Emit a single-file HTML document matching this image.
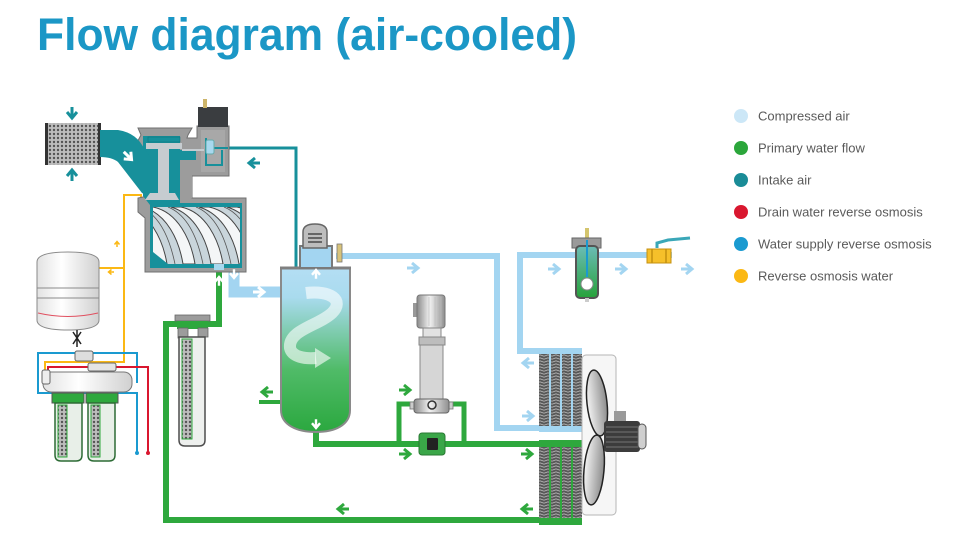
<!DOCTYPE html>
<html><head><meta charset="utf-8"><style>
html,body{margin:0;padding:0;background:#fff;}
svg{display:block;}
</style></head><body>
<svg width="960" height="546" viewBox="0 0 960 546" xmlns="http://www.w3.org/2000/svg">
<defs>
 <pattern id="mesh" width="4" height="4" patternUnits="userSpaceOnUse">
  <rect width="4" height="4" fill="#bdbdbd"/>
  <circle cx="2" cy="2" r="1.2" fill="#555"/>
 </pattern>
 <pattern id="coil" width="8" height="3" patternUnits="userSpaceOnUse">
  <rect width="8" height="3" fill="#585858"/>
  <path d="M0,2.2 L4,0.8 L8,2.2" stroke="#b4b4b4" stroke-width="0.9" fill="none"/>
 </pattern>
 <linearGradient id="sep" x1="0" y1="0" x2="0" y2="1">
  <stop offset="0" stop-color="#b4def4"/>
  <stop offset="0.18" stop-color="#a9dbee"/>
  <stop offset="0.62" stop-color="#50bb68"/>
  <stop offset="1" stop-color="#2ba83f"/>
 </linearGradient>
 <linearGradient id="metal" x1="0" y1="0" x2="1" y2="0">
  <stop offset="0" stop-color="#8a8a8a"/>
  <stop offset="0.45" stop-color="#f2f2f2"/>
  <stop offset="1" stop-color="#8f8f8f"/>
 </linearGradient>
 <linearGradient id="tank" x1="0" y1="0" x2="1" y2="0">
  <stop offset="0" stop-color="#e2e2e2"/>
  <stop offset="0.4" stop-color="#ffffff"/>
  <stop offset="1" stop-color="#d0d0d0"/>
 </linearGradient>
 <linearGradient id="blade" x1="0" y1="0" x2="1" y2="0">
  <stop offset="0" stop-color="#f4f4f4"/>
  <stop offset="1" stop-color="#8c8c8c"/>
 </linearGradient>
 <linearGradient id="filt" x1="0" y1="0" x2="0" y2="1">
  <stop offset="0" stop-color="#6cbcb6"/>
  <stop offset="1" stop-color="#27a23a"/>
 </linearGradient>
 <clipPath id="sc"><rect x="153" y="207" width="87" height="57"/></clipPath>
 <path id="ar" d="M-6,0 H4 M-1,-5 L5,0 L-1,5" fill="none" stroke-width="3"/>
</defs>

<!-- Title -->
<text x="37" y="50" font-family="Liberation Sans, sans-serif" font-weight="bold" font-size="45" fill="#1b97c6" textLength="540" lengthAdjust="spacingAndGlyphs">Flow diagram (air-cooled)</text>

<!-- Legend -->
<g font-family="Liberation Sans, sans-serif" font-size="13" fill="#5a5a5a">
 <circle cx="741" cy="116" r="7" fill="#cce7f7"/><text x="758" y="120.5">Compressed air</text>
 <circle cx="741" cy="148" r="7" fill="#2ba63b"/><text x="758" y="152.5">Primary water flow</text>
 <circle cx="741" cy="180" r="7" fill="#1a8c97"/><text x="758" y="184.5">Intake air</text>
 <circle cx="741" cy="212" r="7" fill="#d9172f"/><text x="758" y="216.5">Drain water reverse osmosis</text>
 <circle cx="741" cy="244" r="7" fill="#1a9ad0"/><text x="758" y="248.5">Water supply reverse osmosis</text>
 <circle cx="741" cy="276" r="7" fill="#fbb814"/><text x="758" y="280.5">Reverse osmosis water</text>
</g>

<!-- ===== Pipes ===== -->
<path d="M213,148 H296 V268" fill="none" stroke="#17909b" stroke-width="3"/>
<path d="M141,205 V195 H124 V362 H45 V372 M99,268 H124" fill="none" stroke="#fbb814" stroke-width="2"/>
<path d="M137,383 V353 H38 V393 H137 V453" fill="none" stroke="#1a9ad0" stroke-width="2"/>
<circle cx="137" cy="453" r="2" fill="#1a9ad0"/>
<path d="M48,372 V367 H148 V453" fill="none" stroke="#d9172f" stroke-width="2"/>
<circle cx="148" cy="453" r="2" fill="#d9172f"/>
<path d="M219,268 V324 H166 V520 H540" fill="none" stroke="#2ea83d" stroke-width="6"/>
<path d="M282,402 H259" fill="none" stroke="#2ea83d" stroke-width="4"/>
<path d="M316,430 V444 H540" fill="none" stroke="#2ea83d" stroke-width="6"/>
<path d="M399,444 V404 H464 V444" fill="none" stroke="#2ea83d" stroke-width="5"/>
<path d="M234,266 V292 H282" fill="none" stroke="#a3d5f1" stroke-width="11"/>
<path d="M336,256 H497 V428 H540" fill="none" stroke="#a3d5f1" stroke-width="6"/>
<path d="M540,351 H520 V255 H672" fill="none" stroke="#a3d5f1" stroke-width="6"/>

<!-- ===== Intake filter ===== -->
<rect x="45" y="123" width="56" height="42" fill="url(#mesh)"/>
<rect x="45" y="123" width="3" height="42" fill="#333"/>
<rect x="98" y="123" width="3" height="42" fill="#333"/>

<!-- ===== Compressor ===== -->
<path d="M138,128 L192,128 L188,135 L187,138 L197,138 L197,126 L229,126 L229,176 L192,176 L192,198 L246,198 L246,272 L145,272 L145,218 L138,212 L138,198 L148,196 L134,148 L141,135 Z" fill="#9c9c9c" stroke="#707070" stroke-width="1"/>
<rect x="198" y="107" width="30" height="20" fill="#3a3d40"/>
<rect x="203" y="99" width="4" height="9" fill="#cdb56a"/>
<rect x="201" y="130" width="24" height="42" fill="#a8a8a8"/>
<path d="M228,148 H214 M206,138 V165 H222 V150" fill="none" stroke="#17909b" stroke-width="2"/>
<rect x="206" y="140" width="8" height="14" rx="2" fill="#a8d8ee" stroke="#6aa" stroke-width="1"/>
<path d="M143,136 L180,136 L180,205 L150,205 L143,196 Z" fill="#17909b"/>
<path d="M180,150 H196 V160 H180" fill="#17909b"/>
<path d="M100,130 L118,130 Q132,132 140,142 L152,160 L152,198 L142,193 L118,162 Q112,157 100,157 Z" fill="#17909b"/>
<rect x="148" y="137" width="32" height="5" fill="#17909b" stroke="#0f6f78" stroke-width="0.5"/>
<rect x="146" y="143" width="36" height="6" fill="#c6ccd0"/>
<rect x="158" y="149" width="11" height="44" fill="#c6ccd0"/>
<path d="M145,200 L150,193 L175,193 L179,200 Z" fill="#c6ccd0"/>
<path d="M182,150 H204" stroke="#c6ccd0" stroke-width="2"/>
<rect x="180" y="160" width="12" height="38" fill="#9c9c9c"/>
<rect x="150" y="203" width="92" height="65" fill="#17909b"/>
<g clip-path="url(#sc)">
 <rect x="153" y="207" width="87" height="57" fill="#c9d5db"/>
 <path d="M125,207 C150,212 163,240 167,264 L155,264 C151,240 139,214 115,207 Z" fill="#f4f6f7" stroke="#444" stroke-width="1"/>
 <path d="M153,207 C178,212 191,240 195,264 L183,264 C179,240 167,214 143,207 Z" fill="#f4f6f7" stroke="#444" stroke-width="1"/>
 <path d="M181,207 C206,212 219,240 223,264 L211,264 C207,240 195,214 171,207 Z" fill="#f4f6f7" stroke="#444" stroke-width="1"/>
 <path d="M209,207 C234,212 247,240 251,264 L239,264 C235,240 223,214 199,207 Z" fill="#f4f6f7" stroke="#444" stroke-width="1"/>
 <path d="M237,207 C262,212 275,240 279,264 L267,264 C263,240 251,214 227,207 Z" fill="#f4f6f7" stroke="#444" stroke-width="1"/>
 <path d="M140,207 C160,215 170,240 175,264 M168,207 C188,215 198,240 203,264 M196,207 C216,215 226,240 231,264 M224,207 C244,215 254,240 259,264" fill="none" stroke="#555" stroke-width="0.8"/>
</g>
<polygon points="153,264 168,264 153,252" fill="#17909b"/>
<rect x="214" y="264" width="10" height="6" fill="#a8d8ee"/>

<!-- ===== Oil filter ===== -->
<rect x="175" y="315" width="35" height="6" fill="#9c9c9c" stroke="#666" stroke-width="0.8"/>
<rect x="177" y="321" width="31" height="8" fill="#2ea83d"/>
<rect x="178" y="328" width="10" height="10" fill="#9c9c9c" stroke="#666" stroke-width="0.8"/>
<rect x="198" y="328" width="10" height="9" fill="#9c9c9c" stroke="#666" stroke-width="0.8"/>
<path d="M179,337 H205 V440 Q205,446 199,446 H185 Q179,446 179,440 Z" fill="#eef0ee" stroke="#4d4d4d" stroke-width="1.5"/>
<rect x="182" y="339" width="10" height="100" fill="url(#mesh)" stroke="#2ea83d" stroke-width="1"/>

<!-- ===== RO system ===== -->
<path d="M37,262 Q37,252 68,252 Q99,252 99,262 V320 Q99,330 68,330 Q37,330 37,320 Z" fill="url(#tank)" stroke="#8a8a8a" stroke-width="1"/>
<rect x="37" y="288" width="62" height="10" fill="url(#tank)" stroke="#8a8a8a" stroke-width="1"/>
<path d="M38,313 Q68,320 98,313" fill="none" stroke="#e05060" stroke-width="1"/>
<path d="M73,332 L81,344 M81,332 L73,344 M77,330 V347" stroke="#222" stroke-width="1.5"/>
<rect x="75" y="351" width="18" height="10" rx="2" fill="#ddd" stroke="#666" stroke-width="1"/>
<rect x="88" y="363" width="28" height="8" rx="2" fill="#e4e4e4" stroke="#666" stroke-width="1"/>
<rect x="43" y="372" width="89" height="20" rx="8" fill="url(#tank)" stroke="#777" stroke-width="1"/>
<rect x="42" y="370" width="8" height="14" rx="2" fill="#eee" stroke="#666" stroke-width="1"/>
<g>
 <rect x="52" y="393" width="32" height="10" fill="#2ea83d" stroke="#555" stroke-width="1"/>
 <path d="M55,403 H82 V455 Q82,461 76,461 H61 Q55,461 55,455 Z" fill="#e8efe8" stroke="#2d6b35" stroke-width="1.5"/>
 <rect x="58" y="405" width="9" height="52" fill="url(#mesh)" stroke="#2ea83d" stroke-width="1"/>
 <rect x="86" y="393" width="32" height="10" fill="#2ea83d" stroke="#555" stroke-width="1"/>
 <path d="M88,403 H115 V455 Q115,461 109,461 H94 Q88,461 88,455 Z" fill="#e8efe8" stroke="#2d6b35" stroke-width="1.5"/>
 <rect x="91" y="405" width="9" height="52" fill="url(#mesh)" stroke="#2ea83d" stroke-width="1"/>
</g>

<!-- ===== Separator ===== -->
<path d="M281,268 H350 V410 C350,425 335,432 316,432 C297,432 281,425 281,410 Z" fill="url(#sep)" stroke="#8a8a8a" stroke-width="2"/>
<line x1="280" y1="268" x2="351" y2="268" stroke="#808080" stroke-width="3"/>
<path d="M306,293 C330,290 345,300 332,313 C318,326 288,330 290,348 C292,357 305,359 316,358" fill="none" stroke="#ffffff" stroke-opacity="0.6" stroke-width="12"/>
<polygon points="315,348 331,358 315,368" fill="#ffffff" fill-opacity="0.6"/>
<rect x="300" y="246" width="32" height="22" fill="#a3d5f1" stroke="#7a7a7a" stroke-width="2"/>
<path d="M303,248 V232 Q303,224 315,224 Q327,224 327,232 V248 Z" fill="#bdbdbd" stroke="#666" stroke-width="1.5"/>
<path d="M308,234 H322 M308,238 H322 M308,242 H322" stroke="#333" stroke-width="1.2"/>
<rect x="337" y="244" width="5" height="18" fill="#d8c37a" stroke="#777" stroke-width="0.8"/>

<!-- ===== Pump ===== -->
<rect x="413" y="303" width="5" height="14" fill="#999"/>
<rect x="417" y="295" width="28" height="33" rx="3" fill="url(#metal)" stroke="#777" stroke-width="1"/>
<path d="M423,297 V326 M429,297 V326 M435,297 V326 M441,297 V326" stroke="#bbb" stroke-width="0.7"/>
<rect x="423" y="328" width="18" height="10" fill="#e2e2e2" stroke="#888" stroke-width="1"/>
<rect x="419" y="337" width="26" height="8" fill="#bdbdbd" stroke="#888" stroke-width="1"/>
<rect x="420" y="345" width="23" height="55" fill="#d6d6d6" stroke="#888" stroke-width="1"/>
<rect x="410" y="402" width="5" height="7" fill="#ccc" stroke="#777" stroke-width="0.8"/>
<rect x="448" y="402" width="5" height="7" fill="#ccc" stroke="#777" stroke-width="0.8"/>
<rect x="414" y="399" width="35" height="14" rx="3" fill="url(#metal)" stroke="#666" stroke-width="1"/>
<circle cx="432" cy="405" r="4" fill="none" stroke="#333" stroke-width="1.5"/>
<rect x="419" y="433" width="26" height="22" rx="3" fill="#3aa648" stroke="#2a7a33" stroke-width="1"/>
<rect x="427" y="438" width="11" height="12" rx="1" fill="#222"/>

<!-- ===== Cooler ===== -->
<rect x="539" y="354" width="43" height="72" fill="url(#coil)"/>
<rect x="539" y="447" width="43" height="71" fill="url(#coil)"/>
<path d="M550,354 V426 M561,354 V426 M572,354 V426" stroke="#a3d5f1" stroke-width="2"/>
<path d="M550,447 V518 M561,447 V518 M572,447 V518" stroke="#2ea83d" stroke-width="2"/>
<rect x="539" y="348" width="43" height="6" fill="#a3d5f1"/>
<rect x="539" y="426" width="43" height="6" fill="#a3d5f1"/>
<rect x="539" y="440" width="43" height="7" fill="#2ea83d"/>
<rect x="539" y="518" width="43" height="7" fill="#2ea83d"/>
<rect x="582" y="355" width="34" height="160" rx="4" fill="#f6f6f6" stroke="#b5b5b5" stroke-width="1"/>
<ellipse cx="597" cy="403" rx="10" ry="33" transform="rotate(-6 597 403)" fill="url(#blade)" stroke="#222" stroke-width="1.5"/>
<ellipse cx="594" cy="470" rx="10" ry="35" transform="rotate(5 594 470)" fill="url(#blade)" stroke="#222" stroke-width="1.5"/>
<rect x="614" y="411" width="12" height="10" fill="#9a9a9a"/>
<rect x="604" y="421" width="36" height="31" rx="3" fill="#3c3c3c"/>
<path d="M606,427 H638 M606,432 H638 M606,437 H638 M606,442 H638 M606,447 H638" stroke="#6a6a6a" stroke-width="1.2"/>
<rect x="638" y="424" width="8" height="25" rx="4" fill="#cfcfcf" stroke="#555" stroke-width="1"/>

<!-- ===== Top-right filter & valve ===== -->
<rect x="585" y="228" width="4" height="10" fill="#d4c56e"/>
<path d="M572,238 H601 V248 H572 Z" fill="#9a9a9a" stroke="#666" stroke-width="1"/>
<rect x="576" y="246" width="22" height="52" rx="4" fill="url(#filt)" stroke="#555" stroke-width="2"/>
<line x1="587" y1="240" x2="587" y2="277" stroke="#1a9ad0" stroke-width="2"/>
<circle cx="587" cy="284" r="6" fill="#fff" stroke="#888" stroke-width="1"/>
<rect x="585" y="298" width="4" height="4" fill="#ccc"/>
<rect x="647" y="249" width="24" height="14" fill="#f6c02a" stroke="#c49010" stroke-width="1"/>
<path d="M652,249 V263 M666,249 V263" stroke="#c49010" stroke-width="1.5"/>
<path d="M657,248 V243 L668,240 L690,238" fill="none" stroke="#3aa7b8" stroke-width="3"/>

<!-- ===== Arrows ===== -->
<use href="#ar" stroke="#17909b" transform="translate(72,113) rotate(90)"/>
<use href="#ar" stroke="#17909b" transform="translate(72,175) rotate(-90)"/>
<use href="#ar" stroke="#ffffff" transform="translate(128,156) rotate(45)"/>
<use href="#ar" stroke="#17909b" transform="translate(254,163) rotate(180)"/>
<use href="#ar" stroke="#ffffff" transform="translate(219,281) rotate(-90) scale(0.8)"/>
<use href="#ar" stroke="#ffffff" transform="translate(234,274) rotate(90) scale(0.8)"/>
<use href="#ar" stroke="#ffffff" transform="translate(259,292)"/>
<use href="#ar" stroke="#ffffff" transform="translate(316,274) rotate(-90) scale(0.8)"/>
<use href="#ar" stroke="#ffffff" transform="translate(316,424) rotate(90) scale(0.8)"/>
<use href="#ar" stroke="#a3d5f1" transform="translate(413,268)"/>
<use href="#ar" stroke="#a3d5f1" transform="translate(528,363) rotate(180)"/>
<use href="#ar" stroke="#a3d5f1" transform="translate(528,416)"/>
<use href="#ar" stroke="#a3d5f1" transform="translate(554,269)"/>
<use href="#ar" stroke="#a3d5f1" transform="translate(621,269)"/>
<use href="#ar" stroke="#a3d5f1" transform="translate(687,269)"/>
<use href="#ar" stroke="#2ea83d" transform="translate(267,392) rotate(180)"/>
<use href="#ar" stroke="#2ea83d" transform="translate(405,390)"/>
<use href="#ar" stroke="#2ea83d" transform="translate(405,454)"/>
<use href="#ar" stroke="#2ea83d" transform="translate(527,454)"/>
<use href="#ar" stroke="#2ea83d" transform="translate(527,509) rotate(180)"/>
<use href="#ar" stroke="#2ea83d" transform="translate(343,509) rotate(180)"/>
<use href="#ar" stroke="#fbb814" transform="translate(117,244) rotate(-90) scale(0.5)"/>
<use href="#ar" stroke="#fbb814" transform="translate(111,272) rotate(180) scale(0.5)"/>
</svg>
</body></html>
